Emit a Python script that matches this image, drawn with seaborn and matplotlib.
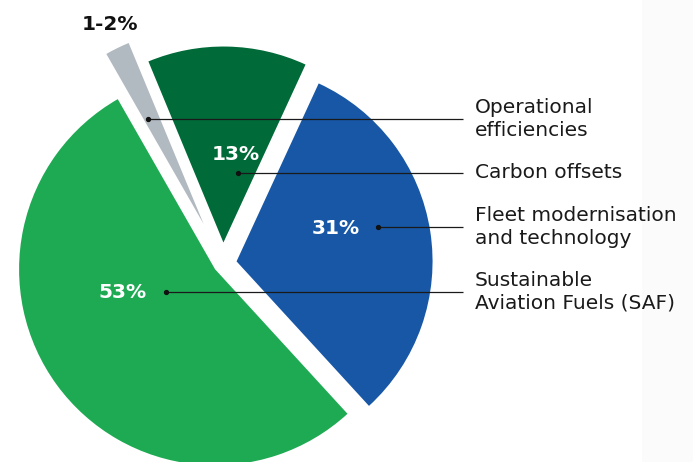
import matplotlib
matplotlib.use("Agg")
import matplotlib.pyplot as plt
from matplotlib.patches import Rectangle
import seaborn as sns

# --- data -------------------------------------------------------------
categories = [
    "Fleet modernisation\nand technology",
    "Carbon offsets",
    "Operational\nefficiencies",
    "Sustainable\nAviation Fuels (SAF)",
]
shares = [31, 13, 2, 53]
share_labels = ["31%", "13%", "1-2%", "53%"]

# --- style ------------------------------------------------------------
sns.set_theme(style="white")
plt.rcParams["font.family"] = ["DejaVu Sans"]

colors = ["#1757A6", "#006A38", "#B1B9C1", "#1EAA53"]
explode = [0.07, 0.107, 0.224, 0.05]

W, H = 693, 462
R_PX = 196.0           # pie radius in pixels
CX, CY = 223.0, 263.5  # pie centre in pixels (from top-left)


def at(x, y):
    """Pixel position (from top-left) -> data coordinates of the pie axes."""
    return (x - CX) / R_PX, (CY - y) / R_PX


fig = plt.figure(figsize=(W / 100, H / 100), dpi=100)
ax = fig.add_axes([0, 0, 1, 1])

# faint grey strip along the right edge of the page, behind everything
ax.add_patch(Rectangle((642 / W, 0), 1 - 642 / W, 1, transform=ax.transAxes,
                       facecolor="#fbfbfb", edgecolor="none", zorder=-5))

wedges, _ = ax.pie(
    shares,
    colors=colors,
    explode=explode,
    startangle=-47.5,
    counterclock=True,
    radius=1.0,
    wedgeprops=dict(linewidth=0),
)

x0, y0 = at(0, 0)
x1, y1 = at(W, H)
ax.set_xlim(x0, x1)
ax.set_ylim(y1, y0)
ax.set_aspect("equal")
ax.axis("off")

# percentage labels inside the slices
pct_pos = [(336, 229), (236, 154), (110, 24), (122, 293)]
pct_col = ["white", "white", "#111111", "white"]
for lab, (px, py), c in zip(share_labels, pct_pos, pct_col):
    tx, ty = at(px, py)
    ax.text(tx, ty, lab, color=c, fontsize=14.5, fontweight="bold",
            ha="center", va="center")

# leader lines from each slice to its category name
dot_pos = [(378, 227), (238, 173), (148, 119), (166, 292)]
line_end_x = 463
text_x = 475
for name, (dx, dy) in zip(categories, dot_pos):
    sx, sy = at(dx, dy)
    ex, _ = at(line_end_x, dy)
    ax.plot([sx, ex], [sy, sy], color="#1a1a1a", lw=0.9, solid_capstyle="butt")
    ax.plot([sx], [sy], "o", color="#111111", ms=2.8)
    tx, _ = at(text_x, dy)
    ax.text(tx, sy, name, color="#1a1a1a", fontsize=14.5, ha="left",
            va="center", linespacing=1.25)

fig.savefig("out.png", dpi=100)
